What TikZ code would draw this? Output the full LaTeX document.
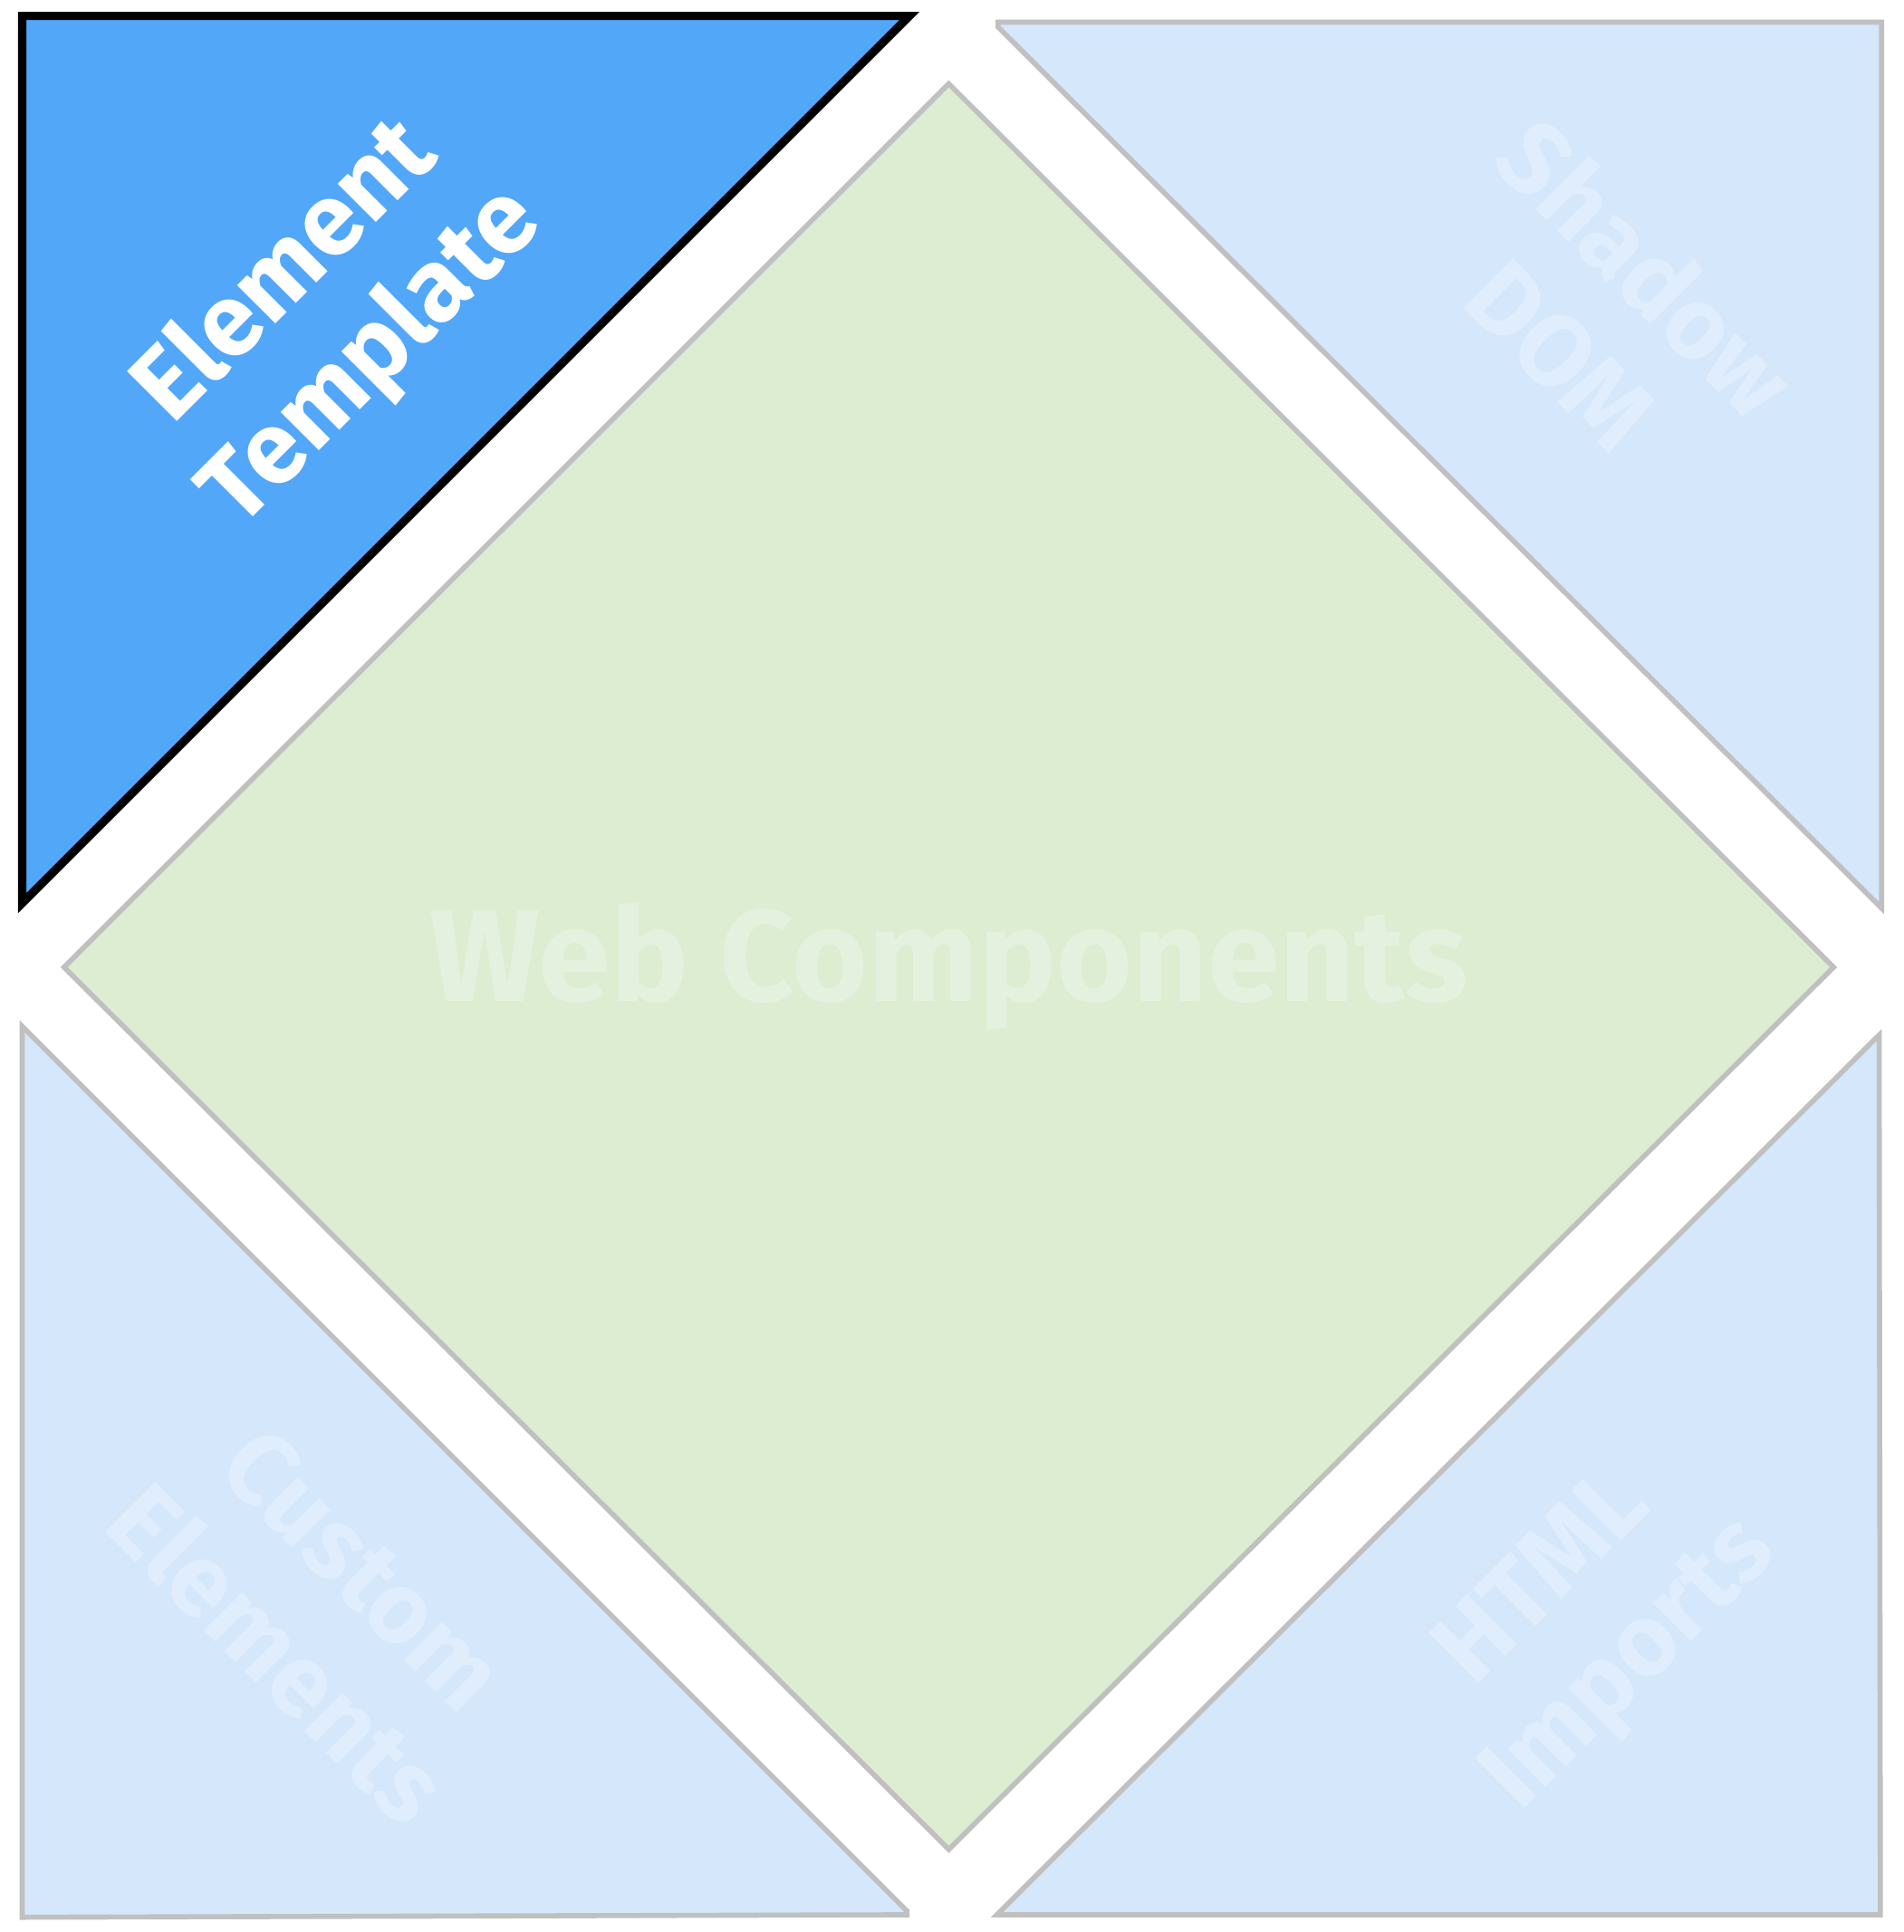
\documentclass[tikz,border=0pt]{standalone}
\usepackage{fontspec}
\setmainfont{Fira Sans}
\definecolor{darkfill}{RGB}{82,167,249}
\definecolor{lightfill}{RGB}{212,231,251}
\definecolor{greenfill}{RGB}{220,237,209}
\definecolor{edgegray}{RGB}{192,192,192}
\definecolor{lighttext}{RGB}{223,237,252}
\definecolor{greentext}{RGB}{228,241,222}
\tikzset{
  darktri/.style={fill=darkfill, draw=black, line width=2.6pt},
  lighttri/.style={fill=lightfill, draw=edgegray, line width=1.6pt},
  greenshape/.style={fill=greenfill, draw=edgegray, line width=1.6pt},
  cornerlabel/.style={align=center, font=\fontsize{32}{38}\selectfont\bfseries, inner sep=0pt},
  biglabel/.style={font=\fontsize{41}{45}\selectfont\bfseries, inner sep=0pt, text=greentext}
}
\begin{document}
\begin{tikzpicture}[x=0.013605cm,y=-0.013605cm]
\useasboundingbox (0,0) rectangle (1545,1568);
\fill[white] (0,0) rectangle (1545,1568);
% center diamond
\draw[greenshape] (770,68) -- (1488,785) -- (770,1501) -- (52,785) -- cycle;
% corner triangles
\draw[darktri] (18,13) -- (738,13) -- (18,733) -- cycle;
\draw[lighttri] (810,22) -- (810,18) -- (1527,18) -- (1527,737) -- cycle;
\draw[lighttri] (18,833) -- (736,1551) -- (736,1554) -- (18,1556) -- cycle;
\draw[lighttri] (1525,840) -- (1526,1554) -- (809,1554) -- cycle;
% labels
\node[biglabel, anchor=base] (web) at (770,813) {Web Components};
\node[cornerlabel, text=white, rotate=45] (elem) at (268,256) {Element\\Template};
\node[cornerlabel, text=lighttext, rotate=-45] (shadow) at (1302,252) {Shadow\\DOM};
\node[cornerlabel, text=lighttext, rotate=-45] (custom) at (260,1308) {Custom\\Elements};
\node[cornerlabel, text=lighttext, rotate=45] (imports) at (1290,1318) {HTML\\Imports};
\end{tikzpicture}
\end{document}
